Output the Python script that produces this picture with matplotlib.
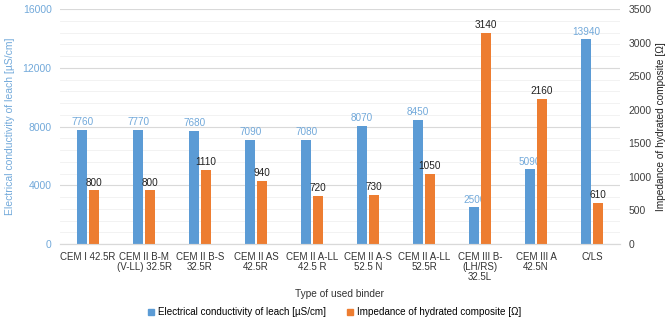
import numpy as np
import matplotlib.pyplot as plt
from matplotlib.patches import Patch

plt.rcParams['font.family'] = ['Liberation Sans', 'DejaVu Sans']

# data
binders = ['CEM I 42.5R', 'CEM II B-M\n(V-LL) 32.5R', 'CEM II B-S\n32.5R', 'CEM II AS\n42.5R',
           'CEM II A-LL\n42.5 R', 'CEM II A-S\n52.5 N', 'CEM II A-LL\n52.5R',
           'CEM III B-\n(LH/RS)\n32.5L', 'CEM III A\n42.5N', 'C/LS']
conductivity = [7760, 7770, 7680, 7090, 7080, 8070, 8450, 2500, 5090, 13940]
impedance = [800, 800, 1110, 940, 720, 730, 1050, 3140, 2160, 610]

blue = '#5B9BD5'
orange = '#ED7D31'
lblue = '#72A9DA'

fig = plt.figure(figsize=(6.69, 3.22), dpi=100)
ax = fig.add_axes([0.0897, 0.242, 0.837, 0.730])
ax2 = ax.twinx()

x = np.arange(len(binders))
w = 0.18
off = 0.103

# grid on the left axis (major 4000, minor 800)
ax.set_ylim(0, 16000)
ax.set_yticks(np.arange(0, 16001, 4000))
ax.set_yticks(np.arange(0, 16001, 800), minor=True)
ax.grid(axis='y', which='major', color='#d9d9d9', lw=0.8)
ax.grid(axis='y', which='minor', color='#f0f0f0', lw=0.6)
ax.set_axisbelow(True)

ax.bar(x - off, conductivity, w, color=blue, zorder=2)
for xi, v in zip(x, conductivity):
    ax.annotate(str(v), (xi - off, v), xytext=(0, 2), textcoords='offset points',
                ha='center', va='bottom', fontsize=7.2, color=lblue)

ax2.set_ylim(0, 3500)
ax2.set_yticks(np.arange(0, 3501, 500))
ax2.bar(x + off, impedance, w, color=orange, zorder=2)
for xi, v in zip(x, impedance):
    ax2.annotate(str(v), (xi + off, v), xytext=(0, 2), textcoords='offset points',
                 ha='center', va='bottom', fontsize=7.2, color='#222222')

ax.set_xlim(-0.5, len(binders) - 0.5)
ax.set_xticks(x)
ax.set_xticklabels(binders, fontsize=7, color='#333333', linespacing=1.0)
ax.tick_params(axis='both', which='both', length=0)
ax.tick_params(axis='x', pad=6)
ax.tick_params(axis='y', labelcolor=lblue, labelsize=7.5, pad=6)
ax2.tick_params(axis='y', length=0, labelsize=7.5, labelcolor='#404040', pad=6)

for a in (ax, ax2):
    for s in ['top', 'left', 'right']:
        a.spines[s].set_visible(False)
    a.spines['bottom'].set_color('#d9d9d9')

ax.set_ylabel('Electrical conductivity of leach [µS/cm]', color=lblue, fontsize=7.5)
ax2.set_ylabel('Impedance of hydrated composite [Ω]', color='#222222', fontsize=7.3)
ax.yaxis.set_label_coords(-0.08, 0.5)
ax2.yaxis.set_label_coords(1.065, 0.5)
ax.set_xlabel('Type of used binder', fontsize=7.3, color='#333333')
ax.xaxis.set_label_coords(0.5, -0.19)

fig.legend(handles=[Patch(color=blue, label='Electrical conductivity of leach [µS/cm]'),
                    Patch(color=orange, label='Impedance of hydrated composite [Ω]')],
           loc='center', bbox_to_anchor=(0.5, 0.03), ncol=2, frameon=False, fontsize=7.1,
           handlelength=0.55, handleheight=0.55, handletextpad=0.4, columnspacing=2.2)

fig.savefig('out.png', dpi=100)
